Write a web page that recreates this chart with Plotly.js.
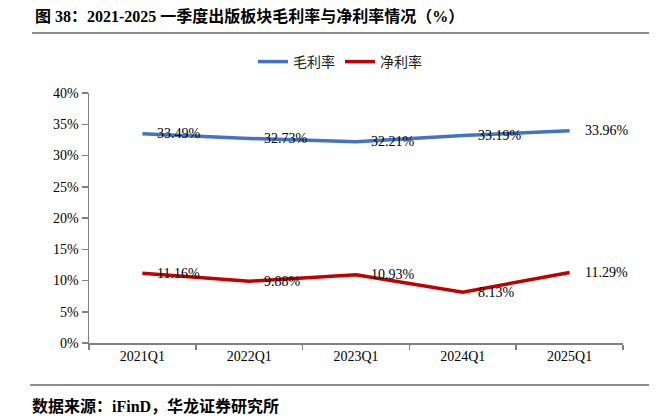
<!DOCTYPE html>
<html>
<head>
<meta charset="utf-8">
<script src="https://cdn.plot.ly/plotly-3.0.1.min.js"></script>
<style>html,body{margin:0;padding:0;background:#fff;}#chart{width:669px;height:419px;}</style>
</head>
<body>
<div id="chart"></div>
<script>
const categories = ["2021Q1", "2022Q1", "2023Q1", "2024Q1", "2025Q1"];
const grossMargin = [33.49, 32.73, 32.21, 33.19, 33.96];
const netMargin = [11.16, 9.88, 10.93, 8.13, 11.29];
const yTickVals = [0, 5, 10, 15, 20, 25, 30, 35, 40];
const yTickText = ["0%", "5%", "10%", "15%", "20%", "25%", "30%", "35%", "40%"];

const serif = "Liberation Serif, Times New Roman, Noto Sans CJK SC, serif";
const cjk = "Liberation Serif, Noto Sans CJK SC, serif";

const traces = [
  {x: categories, y: grossMargin, name: "毛利率", type: "scatter", mode: "lines",
   line: {color: "#4472C4", width: 3.5}, hoverinfo: "skip"},
  {x: categories, y: netMargin, name: "净利率", type: "scatter", mode: "lines",
   line: {color: "#C00000", width: 3.5}, hoverinfo: "skip"}
];

const annotations = [];
function addLabels(vals) {
  vals.forEach((v, i) => {
    annotations.push({x: categories[i], y: v, xref: "x", yref: "y", text: v.toFixed(2) + "%",
      showarrow: false, xanchor: "left", yanchor: "middle", xshift: 13,
      font: {family: serif, size: 14, color: "#000"}});
  });
}
addLabels(grossMargin);
addLabels(netMargin);
annotations.push({xref: "paper", yref: "paper", x: -0.11, y: -0.252, xanchor: "left", yanchor: "middle",
  text: "<b>数据来源：iFinD，华龙证券研究所</b>", showarrow: false,
  font: {family: cjk, size: 16, color: "#000"}});

const layout = {
  width: 669, height: 419,
  margin: {l: 89, r: 46, t: 93, b: 76},
  paper_bgcolor: "#fff", plot_bgcolor: "#fff",
  title: {text: "<b>图 38：2021-2025 一季度出版板块毛利率与净利率情况（%）</b>",
    xref: "container", yref: "container", x: 35/669, xanchor: "left", y: 1 - 16/419, yanchor: "middle",
    font: {family: cjk, size: 16, color: "#000"}},
  showlegend: true,
  legend: {orientation: "h", x: 0.47, xanchor: "center", y: 1.124, yanchor: "middle",
    font: {family: cjk, size: 14, color: "#222"}, bgcolor: "rgba(0,0,0,0)", itemwidth: 30, tracegroupgap: 0},
  xaxis: {type: "category", categoryorder: "array", categoryarray: categories,
    range: [-0.5, 4.5], showgrid: false, zeroline: false,
    showline: true, linecolor: "#7f7f7f", linewidth: 1.5,
    ticks: "outside", tickson: "boundaries", ticklen: 5, tickcolor: "#7f7f7f", tickwidth: 1.5,
    tickfont: {family: serif, size: 14, color: "#000"}, fixedrange: true},
  yaxis: {range: [0, 40], tickvals: yTickVals, ticktext: yTickText,
    showgrid: false, zeroline: false,
    showline: true, linecolor: "#7f7f7f", linewidth: 1.5,
    ticks: "outside", ticklen: 6, tickcolor: "#7f7f7f", tickwidth: 1.5,
    tickfont: {family: serif, size: 14, color: "#000"}, fixedrange: true},
  shapes: [
    {type: "line", xref: "paper", yref: "paper", x0: -0.1067, x1: 1.0487, y0: 1.24, y1: 1.24,
     line: {color: "#8c8c8c", width: 2}},
    {type: "line", xref: "paper", yref: "paper", x0: -0.11, x1: 1.0487, y0: -0.168, y1: -0.168,
     line: {color: "#8c8c8c", width: 2}}
  ],
  annotations: annotations
};

Plotly.newPlot("chart", traces, layout, {staticPlot: true, displayModeBar: false});
</script>
</body>
</html>
